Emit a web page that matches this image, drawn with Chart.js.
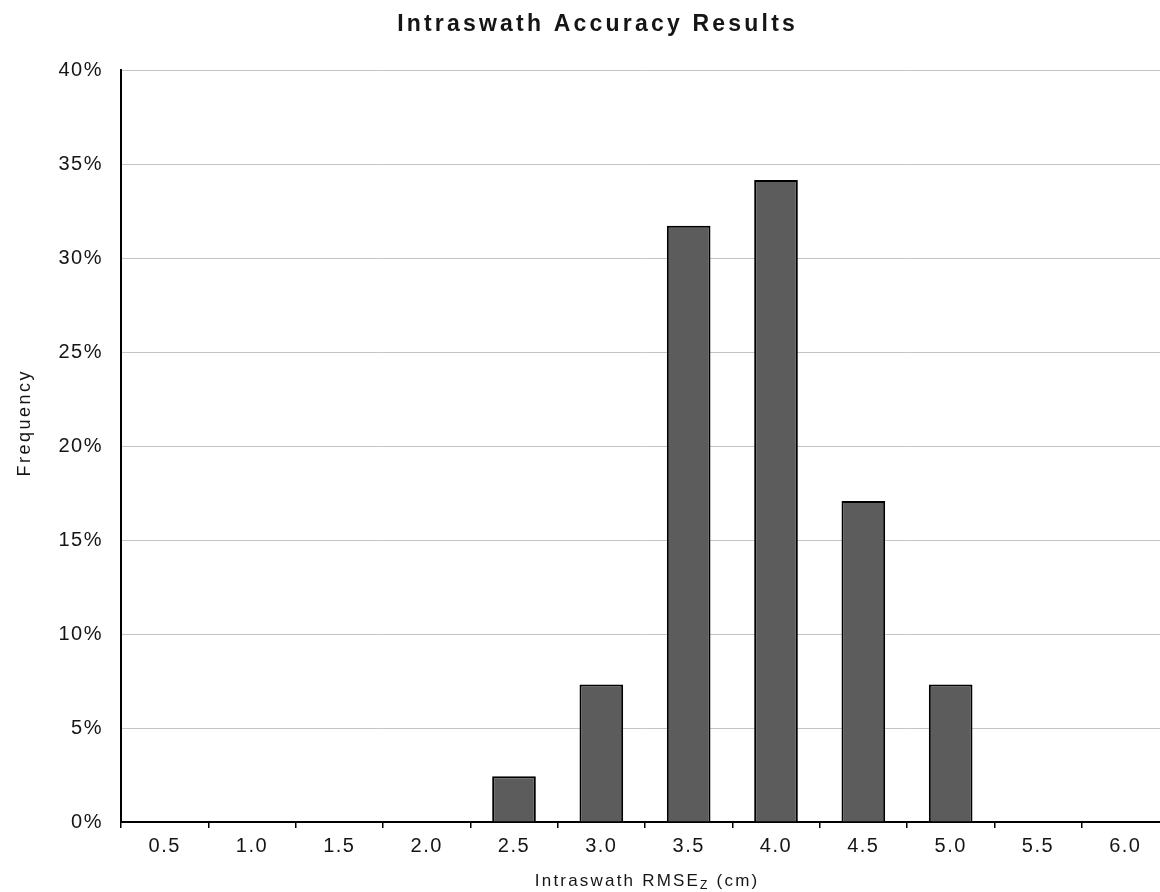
<!DOCTYPE html>
<html>
<head>
<meta charset="utf-8">
<script src="https://cdn.jsdelivr.net/npm/chart.js@4"></script>
<style>
html,body{margin:0;padding:0;background:#fff;overflow:hidden;}
#wrap{width:1170px;height:892px;position:relative;}
</style>
</head>
<body>
<div id="wrap"><canvas id="c"></canvas></div>
<script>
const categories = ["0.5","1.0","1.5","2.0","2.5","3.0","3.5","4.0","4.5","5.0","5.5","6.0"];
const frequency = [0, 0, 0, 0, 2.44, 7.32, 31.71, 34.15, 17.07, 7.32, 0, 0];
const yTicks = [0, 5, 10, 15, 20, 25, 30, 35, 40];
const chartTitle = "Intraswath Accuracy Results";
const yTitle = "Frequency";
const xTitleParts = ["Intraswath RMSE", "Z", " (cm)"];

const FONT = "'Liberation Sans', Arial, sans-serif";
const TEXT = '#151515';

const spacingPlugin = {
  id: 'spacing',
  beforeDraw(chart) { chart.ctx.letterSpacing = '1.5px'; },
  afterDraw(chart) { chart.ctx.letterSpacing = '0px'; }
};

const titlesPlugin = {
  id: 'titles',
  afterDraw(chart) {
    const ctx = chart.ctx;
    ctx.save();
    ctx.fillStyle = TEXT;
    ctx.textBaseline = 'alphabetic';
    ctx.textAlign = 'left';
    // main title
    ctx.letterSpacing = '3.2px';
    ctx.font = "bold 23px " + FONT;
    let w = ctx.measureText(chartTitle).width - 3.2;
    ctx.fillText(chartTitle, 596 - w / 2, 31);
    // y title
    ctx.save();
    ctx.translate(30, 424);
    ctx.rotate(-Math.PI / 2);
    ctx.letterSpacing = '2.5px';
    ctx.font = "18px " + FONT;
    w = ctx.measureText(yTitle).width - 2.5;
    ctx.fillText(yTitle, -w / 2, 0);
    ctx.restore();
    // x title with subscript
    ctx.letterSpacing = '2.2px';
    const big = "17px " + FONT, small = "12px " + FONT;
    ctx.font = big; const w1 = ctx.measureText(xTitleParts[0]).width;
    const w3 = ctx.measureText(xTitleParts[2]).width;
    ctx.font = small; const w2 = ctx.measureText(xTitleParts[1]).width;
    const total = w1 + w2 + w3 - 2.2;
    let x = 646 - total / 2;
    const y = 886;
    ctx.font = big; ctx.fillText(xTitleParts[0], x, y); x += w1;
    ctx.font = small; ctx.fillText(xTitleParts[1], x, y + 3); x += w2;
    ctx.font = big; ctx.fillText(xTitleParts[2], x, y);
    ctx.restore();
  }
};

new Chart(document.getElementById('c'), {
  type: 'bar',
  data: {
    labels: categories,
    datasets: [{
      data: frequency,
      backgroundColor: '#5c5c5c',
      borderColor: '#000',
      borderWidth: 2,
      barPercentage: 0.5,
      categoryPercentage: 1.0
    }]
  },
  options: {
    responsive: true,
    maintainAspectRatio: false,
    animation: false,
    devicePixelRatio: 1,
    layout: { padding: { top: 70, left: 0, right: 1, bottom: 0 } },
    plugins: {
      legend: { display: false },
      title: { display: false },
      tooltip: { enabled: false }
    },
    scales: {
      x: {
        offset: true,
        afterFit(s) { s.height = 70; },
        grid: {
          offset: true,
          drawOnChartArea: false,
          drawTicks: true,
          tickLength: 6,
          color: '#000',
          lineWidth: 1.5
        },
        border: { display: true, color: '#000', width: 2 },
        ticks: {
          color: TEXT,
          font: { family: FONT, size: 20 },
          padding: 6,
          maxRotation: 0,
          autoSkip: false
        }
      },
      y: {
        min: 0,
        max: 40,
        afterFit(s) { s.width = 121; },
        afterBuildTicks(s) { s.ticks = yTicks.map(v => ({ value: v })); },
        grid: {
          drawTicks: false,
          color: '#c4c4c4',
          lineWidth: 1
        },
        border: { display: true, color: '#000', width: 2 },
        ticks: {
          color: TEXT,
          font: { family: FONT, size: 20 },
          padding: 18,
          callback: v => v + '%'
        }
      }
    }
  },
  plugins: [spacingPlugin, titlesPlugin]
});
</script>
</body>
</html>
